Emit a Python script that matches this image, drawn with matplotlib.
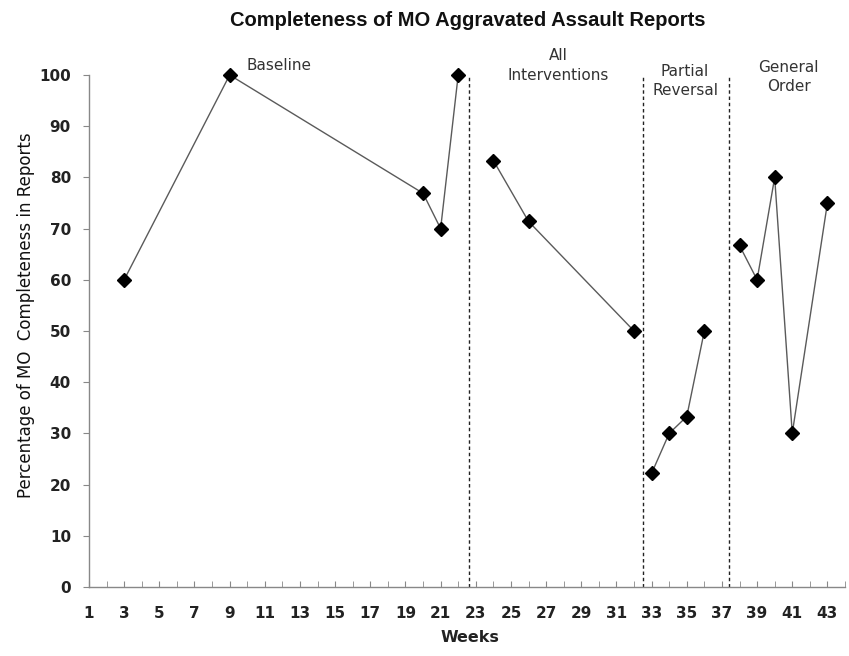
import matplotlib
matplotlib.use("Agg")
import matplotlib.pyplot as plt
import numpy as np

# Data
baseline_weeks = [3, 9, 20, 21, 22]
baseline_vals = [60, 100, 76.9, 70, 100]
allint_weeks = [24, 26, 32]
allint_vals = [83.3, 71.4, 50]
partial_weeks = [33, 34, 35, 36]
partial_vals = [22.2, 30, 33.3, 50]
general_weeks = [38, 39, 40, 41, 43]
general_vals = [66.7, 60, 80, 30, 75]

phase_lines = [22.6, 32.5, 37.4]
phase_labels = ["Baseline", "All\nInterventions", "Partial\nReversal", "General\nOrder"]
phase_label_x = [11.8, 27.7, 34.9, 40.8]
phase_label_y = [103.3, 105.2, 102.2, 103.0]

x_ticklabels = list(range(1, 44, 2))
y_ticks = list(range(0, 101, 10))

plt.rcParams['font.family'] = ['DejaVu Sans']

fig = plt.figure(figsize=(8.49, 6.56), dpi=100)
ax = fig.add_axes([89/849, 1 - 587/656, (845 - 89)/849, (587 - 75)/656])

for w, v in [(baseline_weeks, baseline_vals), (allint_weeks, allint_vals),
             (partial_weeks, partial_vals), (general_weeks, general_vals)]:
    ax.plot(w, v, color='#5a5a5a', lw=1.0, marker='D', markersize=7,
            markerfacecolor='black', markeredgecolor='black', zorder=3,
            clip_on=False)

for xl in phase_lines:
    ax.axvline(xl, ymin=0, ymax=1.0, color='#222222', lw=1.0,
               linestyle=(0, (2.5, 2)), zorder=2)

for lab, lx, ly in zip(phase_labels, phase_label_x, phase_label_y):
    ax.text(lx, ly, lab, ha='center', va='top', fontsize=11, color='#333333',
            linespacing=1.35, clip_on=False)

ax.set_xlim(1, 44)
ax.set_ylim(0, 100)
ax.set_yticks(y_ticks)
ax.set_xticks(x_ticklabels)
ax.set_xticks(np.arange(1, 45, 1), minor=True)
ax.set_xticklabels([str(t) for t in x_ticklabels], fontsize=11,
                   fontweight='bold', color='#222222')
ax.set_yticklabels([str(t) for t in y_ticks], fontsize=11,
                   fontweight='bold', color='#222222')

for s in ['top', 'right']:
    ax.spines[s].set_visible(False)
for s in ['left', 'bottom']:
    ax.spines[s].set_color('#888888')
    ax.spines[s].set_linewidth(1.0)

ax.tick_params(axis='y', direction='out', length=4, color='#888888', pad=9)
ax.tick_params(axis='x', which='both', direction='in', length=4, color='#888888', pad=14)

ax.set_ylabel("Percentage of MO  Completeness in Reports", fontsize=12,
              color='#111111')
ax.yaxis.set_label_coords(-0.072, 0.531)
ax.set_xlabel("Weeks", fontsize=11.5, fontweight='bold', color='#222222')
ax.xaxis.set_label_coords((470 - 89) / 756, -(630 - 587) / 512)

fig.text(468/849, 1 - 20/656, "Completeness of MO Aggravated Assault Reports",
         ha='center', va='center', fontsize=14.5, fontweight='bold', color='#111111',
         family=['Liberation Sans', 'DejaVu Sans'])

fig.savefig("out.png", dpi=100)
